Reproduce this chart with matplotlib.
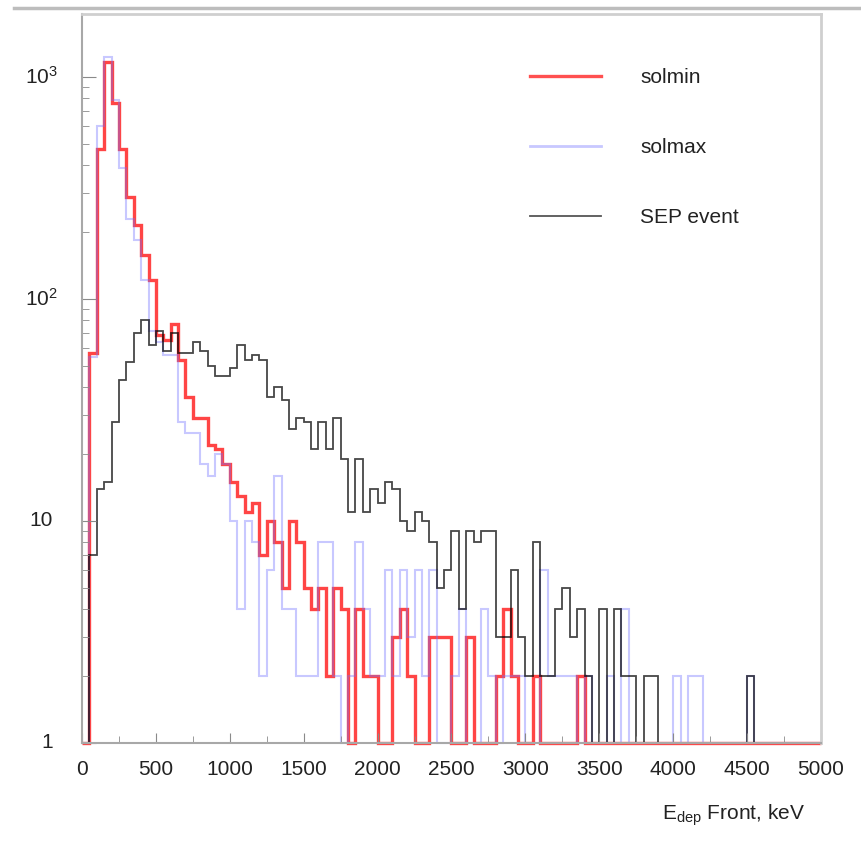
import numpy as np
import matplotlib
matplotlib.use('Agg')
import matplotlib.pyplot as plt
from matplotlib.lines import Line2D
from matplotlib.ticker import MultipleLocator

plt.rcParams['font.family'] = ['Liberation Sans', 'DejaVu Sans']
plt.rcParams['mathtext.fontset'] = 'custom'
plt.rcParams['mathtext.rm'] = 'Liberation Sans'
plt.rcParams['mathtext.it'] = 'Liberation Sans:italic'

# counts per 50 keV bin, 0 .. 5000 keV
bin_width = 50
solmin = [
    0, 57, 475, 1170, 765, 475, 288, 215, 158, 122,
    69, 65, 77, 53, 36, 29, 29, 22, 21, 18,
    15, 13, 11, 12, 7, 10, 8, 5, 10, 8,
    5, 4, 5, 2, 5, 4, 0, 4, 2, 2,
    0, 0, 3, 4, 2, 0, 0, 3, 3, 3,
    0, 0, 3, 0, 0, 0, 2, 4, 2, 0,
    0, 2, 0, 0, 0, 0, 0, 2, 0, 0,
    0, 0, 0, 0, 0, 0, 0, 0, 0, 0,
    0, 0, 0, 0, 0, 0, 0, 0, 0, 0,
    0, 0, 0, 0, 0, 0, 0, 0, 0, 0,
]
solmax = [
    0, 55, 600, 1230, 790, 390, 230, 185, 122, 72,
    64, 56, 56, 28, 25, 25, 18, 16, 20, 18,
    10, 4, 10, 8, 2, 6, 16, 4, 4, 2,
    2, 2, 8, 8, 2, 0, 2, 8, 4, 2,
    2, 6, 2, 6, 3, 6, 2, 6, 0, 0,
    2, 4, 0, 0, 4, 2, 0, 2, 2, 2,
    0, 0, 6, 2, 2, 2, 2, 0, 2, 0,
    0, 2, 0, 4, 0, 0, 0, 0, 0, 0,
    2, 0, 2, 2, 0, 0, 0, 0, 0, 0,
    2, 0, 0, 0, 0, 0, 0, 0, 0, 0,
]
sep_event = [
    0, 7, 14, 15, 28, 43, 52, 70, 80, 62,
    72, 58, 70, 57, 57, 64, 58, 50, 45, 45,
    49, 62, 53, 56, 53, 36, 40, 35, 26, 29,
    28, 21, 28, 21, 29, 19, 11, 19, 11, 14,
    12, 15, 14, 10, 9, 11, 10, 8, 5, 6,
    9, 4, 9, 8, 9, 9, 3, 3, 6, 3,
    2, 8, 2, 2, 4, 5, 3, 4, 2, 0,
    4, 0, 4, 2, 2, 0, 2, 2, 0, 0,
    0, 0, 0, 0, 0, 0, 0, 0, 0, 0,
    2, 0, 0, 0, 0, 0, 0, 0, 0, 0,
]
labels = ['solmin', 'solmax', 'SEP event']
xticks = [0, 500, 1000, 1500, 2000, 2500, 3000, 3500, 4000, 4500, 5000]
yticks = [1, 10, 100, 1000]
ytick_labels = ['1', '10', r'$\mathregular{10^{2}}$', r'$\mathregular{10^{3}}$']

W, H = 862, 856
fig = plt.figure(figsize=(W / 100, H / 100), dpi=100)
ax = fig.add_axes([82 / W, 1 - 743 / H, (821 - 82) / W, (743 - 14) / H])

edges = np.arange(0, len(solmin) + 1) * bin_width
styles = [('#ff1010', 2.4, 0.78), ('#7070ff', 1.5, 0.38), ('#000000', 1.3, 0.72)]
for vals, (c, lw, a) in zip([solmin, solmax, sep_event], styles):
    # empty bins sit on the axis floor like in ROOT
    ax.stairs(np.clip(vals, 1, None), edges, color=c, lw=lw, alpha=a,
              baseline=None, clip_on=False)

ax.set_yscale('log')
ax.set_xlim(0, 5000)
ax.set_ylim(1, 1920)

ax.set_xticks(xticks)
ax.xaxis.set_minor_locator(MultipleLocator(250))
ax.set_yticks(yticks)
ax.set_yticklabels([''] * len(yticks))
ax.tick_params(which='both', direction='in', colors='#8a8a8a',
               labelcolor='#222222', labelsize=15)
ax.tick_params(axis='x', which='major', length=7, pad=12)
ax.tick_params(axis='x', which='minor', length=5)
ax.tick_params(axis='y', which='major', length=10)
ax.tick_params(axis='y', which='minor', length=5)
ax.yaxis.set_minor_formatter(plt.NullFormatter())

ytrans = ax.get_yaxis_transform()
for v, lab in zip(yticks, ytick_labels):
    if '^' in lab:
        ax.text((25 - 82) / 739, v, lab, transform=ytrans, ha='left',
                va='center', fontsize=15, color='#222222')
    else:
        ax.text((53 - 82) / 739, v, lab, transform=ytrans, ha='right',
                va='center', fontsize=15, color='#222222')

for s in ax.spines.values():
    s.set_color('#cfcfcf')
    s.set_linewidth(2)
ax.spines['left'].set_color('#a8a8a8')
ax.spines['bottom'].set_color('#a8a8a8')
ax.spines['left'].set_linewidth(1.5)
ax.spines['bottom'].set_linewidth(1.5)

handles = [Line2D([], [], color='#ff5050', lw=2.4),
           Line2D([], [], color='#c8c8ff', lw=2.0),
           Line2D([], [], color='#555555', lw=1.3)]
leg = ax.legend(handles, labels, loc='upper left',
                bbox_to_anchor=((530 - 82) / 739, (743 - 68) / 729),
                frameon=False, fontsize=15, handlelength=3.4,
                handletextpad=1.9, labelspacing=2.45, borderpad=0,
                borderaxespad=0)
for t in leg.get_texts():
    t.set_color('#222222')

fig.text(805 / W, 1 - 815 / H, r'E$_{\mathregular{dep}}$ Front, keV',
         ha='right', va='center', fontsize=15, color='#222222')

fig.add_artist(Line2D([14 / W, 1], [1 - 8 / H, 1 - 8 / H],
                      color='#bdbdbd', lw=2.5))

fig.savefig('out.png', dpi=100)
